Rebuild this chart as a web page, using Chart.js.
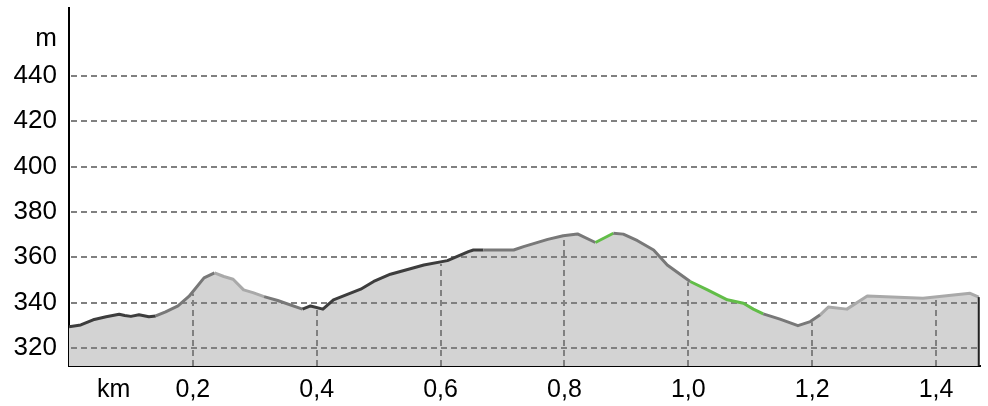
<!DOCTYPE html>
<html>
<head>
<meta charset="utf-8">
<script src="https://cdn.jsdelivr.net/npm/chart.js@4"></script>
<style>
  html, body { margin: 0; padding: 0; background: #ffffff; }
  #wrap { width: 988px; height: 406px; }
</style>
</head>
<body>
<div id="wrap"><canvas id="c" width="988" height="406"></canvas></div>
<script>
// distance along route (km)
const distanceKm = [
  0.000, 0.019, 0.039, 0.060, 0.081, 0.090, 0.100, 0.113, 0.129, 0.140,
  0.156, 0.176, 0.194, 0.218, 0.235, 0.250, 0.265, 0.282, 0.297, 0.315,
  0.337, 0.377, 0.390, 0.410, 0.427, 0.471, 0.492, 0.519, 0.573, 0.611,
  0.645, 0.653, 0.669, 0.718, 0.734, 0.773, 0.798, 0.821, 0.850, 0.879,
  0.895, 0.918, 0.944, 0.966, 1.003, 1.031, 1.063, 1.089, 1.105, 1.121,
  1.148, 1.177, 1.197, 1.213, 1.226, 1.256, 1.289, 1.379, 1.455, 1.469
];
// elevation (m)
const elevationM = [
  329.3, 330.1, 332.4, 333.7, 334.8, 334.3, 333.9, 334.6, 333.7, 334.1,
  335.9, 338.5, 342.8, 350.9, 353.1, 351.5, 350.3, 345.6, 344.4, 342.6,
  340.9, 337.1, 338.5, 337.1, 341.2, 345.9, 349.3, 352.5, 356.6, 358.5,
  362.5, 363.2, 363.2, 363.2, 364.7, 367.9, 369.5, 370.3, 366.5, 370.6,
  370.2, 367.3, 363.2, 356.6, 349.3, 345.6, 341.2, 339.7, 337.1, 335.0,
  332.7, 329.8, 331.6, 334.6, 338.0, 337.1, 342.9, 341.9, 344.1, 342.4
];
// class of the segment that starts at each point (d = dark, m = mid, l = light, g = green)
const segmentClass = [
  'd','d','d','d','d','d','d','d','d','m',
  'm','m','m','m','l','l','l','l','l','m',
  'm','d','d','d','d','d','d','d','d','d',
  'd','d','m','m','m','m','m','m','g','m',
  'm','m','m','m','g','g','g','g','g','m',
  'm','m','m','l','l','l','l','l','l','l'
];
const yTickValues = [320, 340, 360, 380, 400, 420, 440];
const xTickValues = [0.2, 0.4, 0.6, 0.8, 1.0, 1.2, 1.4];
const xUnit = 'km';
const yUnit = 'm';

const classColor = { d: '#3d3d3d', m: '#787878', l: '#a9a9a9', g: '#62bd48' };
const FONT = "'Liberation Sans', Arial, sans-serif";
const points = distanceKm.map((x, i) => ({ x: x, y: elevationM[i] }));

function elevAt(km) {
  for (let i = 0; i < distanceKm.length - 1; i++) {
    if (km >= distanceKm[i] && km <= distanceKm[i + 1]) {
      const t = (km - distanceKm[i]) / (distanceKm[i + 1] - distanceKm[i]);
      return elevationM[i] + t * (elevationM[i + 1] - elevationM[i]);
    }
  }
  return elevationM[elevationM.length - 1];
}

const gridPlugin = {
  id: 'profileGrid',
  afterDatasetDraw(chart, args) {
    const ctx = chart.ctx;
    const xs = chart.scales.x, ys = chart.scales.y;
    const area = chart.chartArea;
    if (args.index === 1) {
      ctx.save();
      ctx.strokeStyle = '#808080';
      ctx.lineWidth = 2;
      ctx.setLineDash([6, 4]);
      ys.ticks.forEach(t => {
        const py = Math.round(ys.getPixelForValue(t.value));
        ctx.beginPath();
        ctx.moveTo(area.left + 2, py);
        ctx.lineTo(area.right, py);
        ctx.stroke();
      });
      xs.ticks.forEach(t => {
        const px = Math.round(xs.getPixelForValue(t.value));
        const top = ys.getPixelForValue(elevAt(t.value));
        ctx.beginPath();
        ctx.moveTo(px, area.bottom);
        ctx.lineTo(px, top + 2);
        ctx.stroke();
      });
      ctx.restore();
    }
    if (args.index === 0) {
      ctx.save();
      const lastX = xs.getPixelForValue(distanceKm[distanceKm.length - 1]);
      const lastY = ys.getPixelForValue(elevationM[elevationM.length - 1]);
      ctx.strokeStyle = '#222222';
      ctx.lineWidth = 2;
      ctx.beginPath();
      ctx.moveTo(lastX, lastY);
      ctx.lineTo(lastX, area.bottom);
      ctx.stroke();
      ctx.restore();
    }
  },
  afterDraw(chart) {
    const ctx = chart.ctx;
    const xs = chart.scales.x, ys = chart.scales.y;
    ctx.save();
    ctx.fillStyle = '#000';
    ctx.font = '26px ' + FONT;
    ctx.textAlign = 'right';
    ctx.textBaseline = 'middle';
    ctx.fillText(yUnit, ys.right - 12, 39);
    ctx.font = '25px ' + FONT;
    ctx.textAlign = 'center';
    const kmX = xs.getPixelForValue(xTickValues[0]) - (xs.getPixelForValue(xTickValues[1]) - xs.getPixelForValue(xTickValues[0])) * 0.64;
    ctx.fillText(xUnit, kmX, 390);
    ctx.restore();
  }
};

new Chart(document.getElementById('c'), {
  type: 'line',
  data: {
    datasets: [
      {
        label: 'profile',
        data: points,
        order: 1,
        fill: false,
        borderWidth: 3,
        borderColor: '#787878',
        borderJoinStyle: 'round',
        borderCapStyle: 'butt',
        pointRadius: 0,
        tension: 0,
        segment: {
          borderColor: c => classColor[segmentClass[c.p0DataIndex]]
        }
      },
      {
        label: 'area',
        data: points,
        order: 2,
        fill: 'start',
        backgroundColor: '#d3d3d3',
        borderWidth: 0,
        borderColor: 'rgba(0,0,0,0)',
        pointRadius: 0,
        tension: 0
      }
    ]
  },
  options: {
    responsive: false,
    animation: false,
    devicePixelRatio: 1,
    layout: { padding: { top: 8, right: 8, left: 0, bottom: 0 } },
    plugins: { legend: { display: false }, tooltip: { enabled: false } },
    scales: {
      x: {
        type: 'linear',
        min: 0,
        max: 1.471,
        afterBuildTicks: s => { s.ticks = xTickValues.map(v => ({ value: v })); },
        afterFit: s => { s.height = 40; s.paddingLeft = 0; s.paddingRight = 0; },
        grid: { display: false, drawTicks: false },
        border: { display: true, color: '#000000', width: 2 },
        ticks: {
          color: '#000000',
          font: { family: FONT, size: 25 },
          padding: 9,
          maxRotation: 0,
          autoSkip: false,
          callback: v => v.toFixed(1).replace('.', ',')
        }
      },
      y: {
        type: 'linear',
        min: 312,
        max: 470,
        afterBuildTicks: s => { s.ticks = yTickValues.map(v => ({ value: v })); },
        afterFit: s => { s.width = 69; s.paddingTop = 0; s.paddingBottom = 0; },
        grid: { display: false, drawTicks: false },
        border: { display: true, color: '#000000', width: 2 },
        ticks: {
          color: '#000000',
          font: { family: FONT, size: 26 },
          padding: 12,
          autoSkip: false,
          callback: v => String(v)
        }
      }
    }
  },
  plugins: [gridPlugin]
});
</script>
</body>
</html>
